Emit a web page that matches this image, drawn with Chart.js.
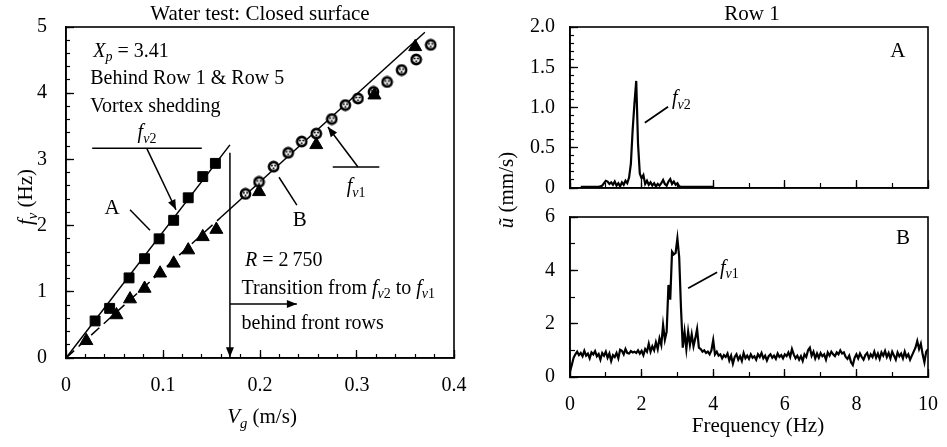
<!DOCTYPE html>
<html><head><meta charset="utf-8">
<script src="https://cdn.jsdelivr.net/npm/chart.js@4/dist/chart.umd.min.js"></script>
<style>
html,body{margin:0;padding:0;background:#fff;width:947px;height:447px;overflow:hidden;}
canvas{position:absolute;}
#cL{left:0;top:0;}
#cA{left:475px;top:0;}
#cB{left:475px;top:200px;}
</style></head><body>
<canvas id="cL" width="470" height="447"></canvas>
<canvas id="cA" width="472" height="447"></canvas>
<canvas id="cB" width="472" height="247"></canvas>
<script>
// ---------------- DATA: left panel (fv vs Vg) ----------------
const vgSquares  = [0.030,0.045,0.065,0.081,0.096,0.111,0.126,0.141,0.154];
const fv2Squares = [0.56,0.75,1.21,1.50,1.80,2.08,2.42,2.74,2.94];
const vgTriangles = [0.021,0.052,0.066,0.081,0.097,0.111,0.126,0.141,0.155,0.199,0.258,0.318,0.360];
const fvTriangles = [0.26,0.65,0.89,1.05,1.28,1.43,1.63,1.83,1.94,2.51,3.22,3.97,4.70];
const vgCircles  = [0.185,0.199,0.214,0.229,0.243,0.258,0.274,0.288,0.301,0.317,0.331,0.346,0.361,0.376];
const fv1Circles = [2.48,2.66,2.89,3.10,3.27,3.39,3.61,3.82,3.92,4.02,4.17,4.35,4.51,4.73];
const fitAx = [0, 0.169], fitAy = [0, 3.22];
const fitBLowX = [0, 0.16], fitBLowY = [0, 2.13];
const fitBUpX = [0.16, 0.37], fitBUpY = [2.13, 4.92];
const xTicksL = [0, 0.1, 0.2, 0.3, 0.4];
const yTicksL = [0, 1, 2, 3, 4, 5];

// ---------------- DATA: spectra ----------------
const specAStart = 0.30, specAStep = 0.05;
const specA = [.015,.015,.015,.015,.015,.015,.015,.015,.015,.015,.015,.02,.03,
  .06,.09,.08,.05,.07,.04,.08,.03,.06,.02,.07,.04,.09,.06,
  .13,.30,.72,1.05,1.33,.55,.18,.12,.16,
  .05,.09,.04,.07,.03,.06,.02,.05,.03,.06,.10,.05,.03,.08,.11,.05,.08,.04,.06,.02,
  .015,.015,.015,.015,.015,.015,.015,.015,.015,.015,.015,.015,.015,.015,.015,.015,.015,.015,.015];
const specBStart = 0, specBStep = 0.05;
const specB = [
  0.20,0.45,0.72,0.85,0.95,0.82,0.90,0.78,0.98,0.80,0.88,0.70,0.92,0.85,0.97,0.78,0.86,0.65,0.90,0.80,
  0.95,0.72,0.88,0.60,0.82,0.75,0.90,0.70,1.02,0.98,0.85,1.05,0.90,0.88,0.97,0.92,0.95,0.90,1.00,0.88,
  0.98,0.82,1.05,0.95,1.25,0.95,1.15,1.00,1.30,1.05,1.45,1.20,1.95,1.40,1.70,3.45,2.90,4.70,4.60,4.65,
  5.20,4.50,2.60,1.10,1.70,1.05,1.70,1.20,1.60,1.15,1.45,1.80,1.10,1.05,0.95,1.00,0.90,0.95,0.85,1.00,
  1.38,0.85,0.95,0.80,0.85,0.70,0.82,0.75,0.88,0.62,0.80,0.50,0.75,0.85,0.65,0.78,0.60,0.90,0.70,0.80,
  0.68,0.85,0.72,0.78,0.65,0.85,0.75,0.90,0.70,0.80,0.62,0.78,0.85,0.72,0.80,0.68,0.88,0.75,0.82,0.70,
  0.85,0.78,0.92,0.75,1.05,0.85,0.70,0.80,0.65,0.78,0.60,0.85,0.75,1.00,1.10,0.80,0.95,0.70,0.88,0.72,
  0.90,0.78,0.85,0.65,0.92,0.80,0.95,0.85,0.78,0.92,0.85,1.00,0.88,0.92,0.75,0.68,0.80,0.55,0.45,0.72,
  0.85,0.70,0.88,0.75,0.65,0.82,0.90,0.70,0.85,0.75,0.95,0.72,0.88,0.68,0.92,0.80,0.98,0.75,0.90,0.70,
  0.95,0.80,0.65,0.92,0.78,0.88,0.70,0.95,0.75,0.85,0.65,0.80,0.95,1.10,1.35,1.05,1.25,0.85,0.55,0.95,
  1.05];
const freqTicks = [0, 2, 4, 6, 8, 10];

// ---------------- helpers ----------------
const SERIF = '"Liberation Serif","Times New Roman",serif';
const pts = (xs, ys) => xs.map((x, i) => ({x, y: ys[i]}));
const spec = (start, step, vals) => vals.map((v, i) => ({x: +(start + i * step).toFixed(3), y: v}));

function rich(ctx, x, yc, parts, size, align, rot) {
  const fontFor = k => {
    const sub = k[0] === 's';
    const it = k[k.length - 1] === 'i';
    return (it ? 'italic ' : '') + (sub ? size * 0.7 : size) + 'px ' + SERIF;
  };
  let w = 0;
  for (const [t, k] of parts) { ctx.font = fontFor(k); w += ctx.measureText(t).width; }
  ctx.save();
  ctx.translate(x, yc);
  if (rot) ctx.rotate(rot);
  let cx = align === 'center' ? -w / 2 : (align === 'right' ? -w : 0);
  ctx.textAlign = 'left'; ctx.textBaseline = 'alphabetic'; ctx.fillStyle = '#000';
  const base = size * 0.32;
  for (const [t, k] of parts) {
    ctx.font = fontFor(k);
    ctx.fillText(t, cx, base + (k[0] === 's' ? size * 0.24 : 0));
    cx += ctx.measureText(t).width;
  }
  ctx.restore();
}
function seg(ctx, x1, y1, x2, y2, head) {
  ctx.beginPath(); ctx.moveTo(x1, y1); ctx.lineTo(x2, y2); ctx.stroke();
  if (head) {
    const a = Math.atan2(y2 - y1, x2 - x1), L = 10, W = 4;
    ctx.beginPath();
    ctx.moveTo(x2, y2);
    ctx.lineTo(x2 - L * Math.cos(a) + W * Math.sin(a), y2 - L * Math.sin(a) - W * Math.cos(a));
    ctx.lineTo(x2 - L * Math.cos(a) - W * Math.sin(a), y2 - L * Math.sin(a) + W * Math.cos(a));
    ctx.closePath(); ctx.fill();
  }
}
function frame(chart) {
  const a = chart.chartArea, ctx = chart.ctx;
  ctx.save(); ctx.strokeStyle = '#000'; ctx.lineWidth = 1.6;
  ctx.strokeRect(a.left, a.top, a.right - a.left, a.bottom - a.top);
  ctx.restore();
}
function makeCircleMarker() {
  const c = document.createElement('canvas'); c.width = 13; c.height = 13;
  const g = c.getContext('2d');
  g.beginPath(); g.arc(6.5, 6.5, 4.6, 0, 2 * Math.PI); g.fillStyle = '#fff'; g.fill();
  g.lineWidth = 2.6; g.strokeStyle = '#000'; g.stroke();
  g.fillStyle = '#000';
  [[4.9, 5.6], [8.1, 5.6], [6.5, 8.3]].forEach(([x, y]) => { g.beginPath(); g.arc(x, y, 1.0, 0, 2 * Math.PI); g.fill(); });
  return c;
}
function fixSize(prop, val) {
  return s => { s[prop] = val; s.paddingLeft = 0; s.paddingRight = 0; s.paddingTop = 0; s.paddingBottom = 0; };
}
function majorAxis(opts) {
  return Object.assign({
    type: 'linear',
    grid: {drawOnChartArea: false, drawTicks: true, tickLength: -8, tickColor: '#000', tickWidth: 1.3},
    border: {display: true, color: '#000', width: 1.6}
  }, opts);
}
function minorAxis(axis, pos, min, max, step, len) {
  return {
    axis, type: 'linear', position: pos, min, max,
    ticks: {display: false, stepSize: step, autoSkip: false},
    grid: {drawOnChartArea: false, drawTicks: true, tickLength: -len, tickColor: '#000', tickWidth: 1.2},
    border: {display: false}
  };
}
const tickFont = {family: SERIF, size: 20};
const baseOpts = {responsive: false, animation: false, devicePixelRatio: 1,
  plugins: {legend: {display: false}, tooltip: {enabled: false}}};

// ---------------- LEFT PANEL ----------------
const annotL = {id: 'annotL', afterDraw(chart) {
  const ctx = chart.ctx, a = chart.chartArea;
  const X = v => chart.scales.x.getPixelForValue(v), Y = v => chart.scales.y.getPixelForValue(v);
  frame(chart);
  ctx.save(); ctx.fillStyle = '#000'; ctx.strokeStyle = '#000'; ctx.lineWidth = 1.5;
  rich(ctx, (a.left + a.right) / 2, 13, [['Water test: Closed surface', 'r']], 21, 'center');
  rich(ctx, 25, 197, [['f', 'i'], ['v', 'si'], [' (Hz)', 'r']], 21, 'center', -Math.PI / 2);
  rich(ctx, 262, 416, [['V', 'i'], ['g', 'si'], [' (m/s)', 'r']], 21, 'center');
  rich(ctx, X(0.028), Y(4.65), [['X', 'i'], ['p', 'si'], [' = 3.41', 'r']], 20, 'left');
  rich(ctx, X(0.025), Y(4.23), [['Behind Row 1 & Row 5', 'r']], 20, 'left');
  rich(ctx, X(0.025), Y(3.81), [['Vortex shedding', 'r']], 20, 'left');
  rich(ctx, X(0.0835), Y(3.42), [['f', 'i'], ['v', 'si'], ['2', 'sr']], 20, 'center');
  seg(ctx, X(0.027), Y(3.17), X(0.140), Y(3.17));
  seg(ctx, X(0.0835), Y(3.16), X(0.1134), Y(2.24), true);
  rich(ctx, X(0.0474), Y(2.28), [['A', 'r']], 21, 'center');
  seg(ctx, X(0.066), Y(2.24), X(0.0866), Y(1.93));
  rich(ctx, X(0.241), Y(2.10), [['B', 'r']], 21, 'center');
  seg(ctx, X(0.2196), Y(2.73), X(0.238), Y(2.31));
  rich(ctx, X(0.299), Y(2.60), [['f', 'i'], ['v', 'si'], ['1', 'sr']], 20, 'center');
  seg(ctx, X(0.275), Y(2.885), X(0.323), Y(2.885));
  seg(ctx, X(0.301), Y(2.885), X(0.270), Y(3.49), true);
  seg(ctx, X(0.169), Y(3.10), X(0.169), Y(0.01), true);
  seg(ctx, X(0.169), Y(0.816), X(0.238), Y(0.816), true);
  rich(ctx, X(0.1845), Y(1.48), [['R', 'i'], [' = 2\u2009750', 'r']], 20, 'left');
  rich(ctx, X(0.181), Y(1.07), [['Transition from ', 'r'], ['f', 'i'], ['v', 'si'], ['2', 'sr'], [' to ', 'r'], ['f', 'i'], ['v', 'si'], ['1', 'sr']], 20, 'left');
  rich(ctx, X(0.181), Y(0.53), [['behind front rows', 'r']], 20, 'left');
  ctx.restore();
}};

new Chart(document.getElementById('cL'), {
  type: 'scatter',
  data: {datasets: [
    {label: 'fv2 squares', data: pts(vgSquares, fv2Squares), pointStyle: 'rect', pointRadius: 7, backgroundColor: '#000', borderColor: '#000', borderWidth: 1, order: 1},
    {label: 'fv1 triangles', data: pts(vgTriangles, fvTriangles), pointStyle: 'triangle', pointRadius: 7.5, backgroundColor: '#000', borderColor: '#000', borderWidth: 1, order: 1},
    {label: 'fv1 circles', data: pts(vgCircles, fv1Circles), pointStyle: makeCircleMarker(), pointRadius: 6, order: 1},
    {label: 'fit A', data: pts(fitAx, fitAy), showLine: true, pointRadius: 0, borderColor: '#000', borderWidth: 1.5, order: 2},
    {label: 'fit B low', data: pts(fitBLowX, fitBLowY), showLine: true, pointRadius: 0, borderColor: '#000', borderWidth: 1.5, borderDash: [11, 6], order: 2},
    {label: 'fit B up', data: pts(fitBUpX, fitBUpY), showLine: true, pointRadius: 0, borderColor: '#000', borderWidth: 1.5, order: 2}
  ]},
  options: Object.assign({}, baseOpts, {
    layout: {padding: {left: 0, right: 16, top: 27, bottom: 0}},
    scales: {
      x: majorAxis({position: 'bottom', min: 0, max: 0.4, afterFit: fixSize('height', 89),
        ticks: {color: '#000', font: tickFont, autoSkip: false, maxRotation: 0, padding: 24, stepSize: 0.1,
          callback: v => xTicksL.some(t => Math.abs(t - v) < 1e-9) ? (v === 0 ? '0' : (Math.round(v * 10) / 10).toString()) : ''}}),
      y: majorAxis({position: 'left', min: 0, max: 5, afterFit: fixSize('width', 66),
        ticks: {color: '#000', font: tickFont, autoSkip: false, padding: 27, stepSize: 1,
          callback: v => yTicksL.includes(v) ? String(v) : ''}}),
      xm: minorAxis('x', {y: 0}, 0, 0.4, 0.02, 4),
      ym: minorAxis('y', {x: 0}, 0, 5, 0.2, 4)
    }
  }),
  plugins: [annotL]
});

// ---------------- RIGHT TOP PANEL (A) ----------------
const annotA = {id: 'annotA', afterDraw(chart) {
  const ctx = chart.ctx, a = chart.chartArea;
  const X = v => chart.scales.x.getPixelForValue(v), Y = v => chart.scales.y.getPixelForValue(v);
  frame(chart);
  ctx.save(); ctx.fillStyle = '#000'; ctx.strokeStyle = '#000'; ctx.lineWidth = 1.8;
  rich(ctx, (a.left + a.right) / 2 + 3, 13, [['Row 1', 'r']], 21, 'center');
  rich(ctx, 31, 190, [['\u0169', 'i'], [' (mm/s)', 'r']], 21, 'center', -Math.PI / 2);
  rich(ctx, X(9.16), Y(1.71), [['A', 'r']], 21, 'center');
  rich(ctx, X(2.85), Y(1.12), [['f', 'i'], ['v', 'si'], ['2', 'sr']], 20, 'left');
  seg(ctx, X(2.09), Y(0.81), X(2.74), Y(1.01));
  ctx.restore();
}};
new Chart(document.getElementById('cA'), {
  type: 'scatter',
  data: {datasets: [
    {label: 'Spectrum A', data: spec(specAStart, specAStep, specA), showLine: true, pointRadius: 0, borderColor: '#000', borderWidth: 2.2, tension: 0}
  ]},
  options: Object.assign({}, baseOpts, {
    layout: {padding: {left: 0, right: 19, top: 27, bottom: 259}},
    scales: {
      x: majorAxis({position: 'bottom', min: 0, max: 10, afterFit: fixSize('height', 0),
        ticks: {display: false, stepSize: 2, autoSkip: false}}),
      y: majorAxis({position: 'left', min: 0, max: 2, afterFit: fixSize('width', 95),
        ticks: {color: '#000', font: tickFont, autoSkip: false, padding: 23, stepSize: 0.5,
          callback: v => v === 0 ? '0' : v.toFixed(1)}}),
      xm: minorAxis('x', {y: 0}, 0, 10, 1, 5),
      ym: minorAxis('y', {x: 0}, 0, 2, 0.1, 4)
    }
  }),
  plugins: [annotA]
});

// ---------------- RIGHT BOTTOM PANEL (B) ----------------
const annotB = {id: 'annotB', afterDraw(chart) {
  const ctx = chart.ctx;
  const X = v => chart.scales.x.getPixelForValue(v), Y = v => chart.scales.y.getPixelForValue(v);
  frame(chart);
  ctx.save(); ctx.fillStyle = '#000'; ctx.strokeStyle = '#000'; ctx.lineWidth = 1.8;
  rich(ctx, X(9.3), Y(5.24), [['B', 'r']], 21, 'center');
  rich(ctx, X(4.19), Y(4.12), [['f', 'i'], ['v', 'si'], ['1', 'sr']], 20, 'left');
  seg(ctx, X(3.30), Y(3.33), X(4.11), Y(3.93));
  rich(ctx, 283, 225, [['Frequency (Hz)', 'r']], 21, 'center');
  ctx.restore();
}};
new Chart(document.getElementById('cB'), {
  type: 'scatter',
  data: {datasets: [
    {label: 'Spectrum B', data: spec(specBStart, specBStep, specB), showLine: true, pointRadius: 0, borderColor: '#000', borderWidth: 2.2, tension: 0}
  ]},
  options: Object.assign({}, baseOpts, {
    layout: {padding: {left: 0, right: 19, top: 17, bottom: 0}},
    scales: {
      x: majorAxis({position: 'bottom', min: 0, max: 10, afterFit: fixSize('height', 70),
        ticks: {color: '#000', font: tickFont, autoSkip: false, maxRotation: 0, padding: 24, stepSize: 2,
          callback: v => freqTicks.includes(v) ? String(v) : ''}}),
      y: majorAxis({position: 'left', min: 0, max: 6, afterFit: fixSize('width', 95),
        ticks: {color: '#000', font: tickFont, autoSkip: false, padding: 23, stepSize: 2,
          callback: v => String(v)}}),
      xm: minorAxis('x', {y: 0}, 0, 10, 1, 5),
      ym: minorAxis('y', {x: 0}, 0, 6, 1, 5)
    }
  }),
  plugins: [annotB]
});
</script>
</body></html>
